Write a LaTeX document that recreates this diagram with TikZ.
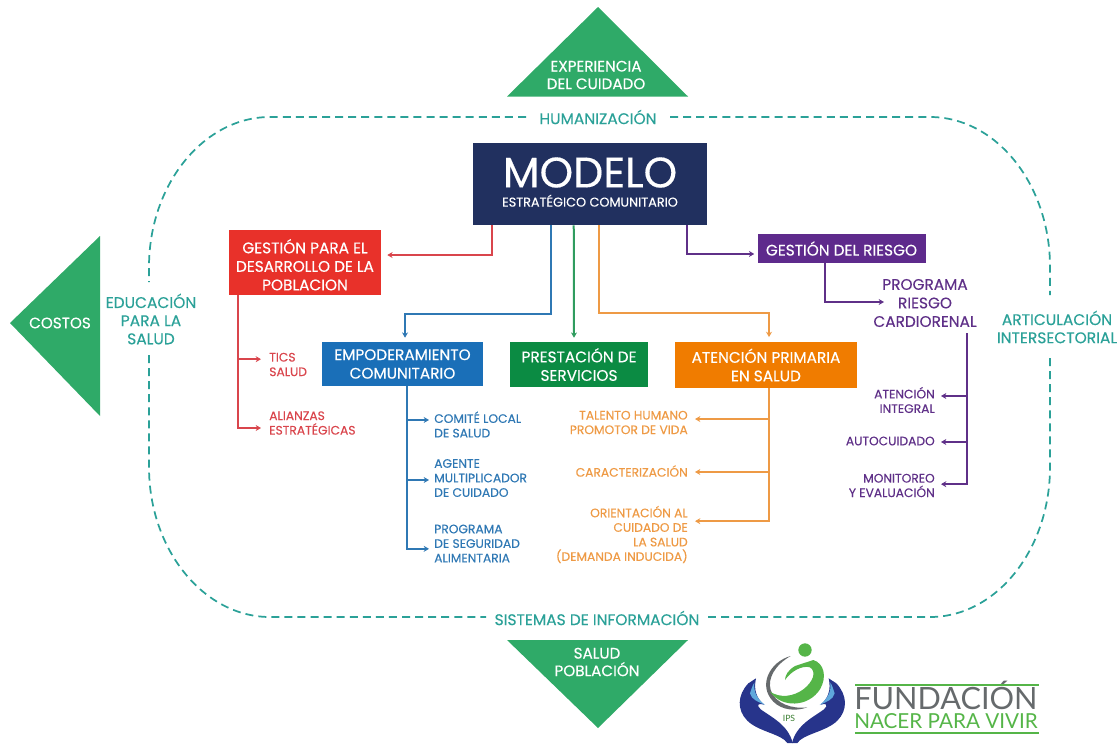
\documentclass[tikz,border=0pt]{standalone}
\usepackage{fontspec}
\setmainfont{Poppins}[FakeBold=0.35]
\newfontfamily\logofont{Lato}
\usetikzlibrary{arrows.meta}
\definecolor{navybox}{HTML}{21305F}
\definecolor{redbox}{HTML}{E8312A}
\definecolor{bluebox}{HTML}{1A6FB8}
\definecolor{greenbox}{HTML}{0B8B43}
\definecolor{orangebox}{HTML}{F07C00}
\definecolor{purplebox}{HTML}{5E2A8C}
\definecolor{redtext}{HTML}{D9454C}
\definecolor{bluetext}{HTML}{2F78B4}
\definecolor{orangetext}{HTML}{EE9A45}
\definecolor{purpletext}{HTML}{5F3088}
\definecolor{tealtext}{HTML}{2BA198}
\definecolor{tribox}{HTML}{2FAA68}
\definecolor{logogreen}{HTML}{55B548}
\definecolor{logogrey}{HTML}{666A6C}
\definecolor{handblue}{HTML}{27348B}
\definecolor{handsky}{HTML}{5FA8DC}
\tikzset{
boxnode/.style={inner sep=0pt,text=white,align=center,font=\fontsize{11.5}{13.9}\selectfont},
leafnode/.style={inner sep=0pt,font=\fontsize{9.2}{10.9}\selectfont},
framelabel/.style={inner sep=0pt,align=center,text=tealtext,font=\fontsize{11.6}{13.6}\selectfont},
trilabel/.style={inner sep=0pt,align=center,text=white,font=\fontsize{11.4}{13.2}\selectfont},
linkline/.style={line width=1.5pt,-{Stealth[length=4pt,width=4.5pt]}},
frameline/.style={line width=1.3pt,color=tealtext,dash pattern=on 6pt off 3.8pt}
}
\begin{document}
\begin{tikzpicture}[x=0.75pt,y=-0.75pt]
\useasboundingbox (0,0) rectangle (1120,743);
\fill[tribox] (598,7) -- (688,96.5) -- (507,96.5) -- cycle;
\fill[tribox] (10,323) -- (100,236) -- (100,416) -- cycle;
\fill[tribox] (507,640) -- (688,640) -- (598,728) -- cycle;
\node[trilabel] (experiencia) at (596,75) {EXPERIENCIA\\DEL CUIDADO};
\node[trilabel] (costos) at (60,323) {COSTOS};
\node[trilabel] (poblacion) at (597,662) {SALUD\\POBLACIÓN};
\node[framelabel] (humanizacion) at (598,117) {HUMANIZACIÓN};
\node[framelabel] (educacion) at (151,319) {EDUCACIÓN\\PARA LA\\SALUD};
\node[framelabel] (articulacion) at (1057,327) {ARTICULACIÓN\\INTERSECTORIAL};
\node[framelabel] (sistemas) at (597,618) {SISTEMAS DE INFORMACIÓN};
\coordinate (topleft) at (526,117);
\coordinate (topright) at (670,117);
\coordinate (leftup) at (149,282);
\coordinate (leftdown) at (149,355);
\coordinate (rightup) at (1050,295);
\coordinate (rightdown) at (1050,358);
\coordinate (bottomleft) at (486,617);
\coordinate (bottomright) at (708,617);
\draw[frameline] (topleft) -- (270,117) .. controls (204,117) and (149,184) .. (149,267) -- (leftup);
\draw[frameline] (topright) -- (930,117) .. controls (996,117) and (1050,184) .. (1050,267) -- (rightup);
\draw[frameline] (leftdown) -- (149,467) .. controls (149,550) and (204,617) .. (270,617) -- (bottomleft);
\draw[frameline] (rightdown) -- (1050,467) .. controls (1050,550) and (996,617) .. (930,617) -- (bottomright);
\node[boxnode,fill=navybox,minimum width=175.5pt,minimum height=61.5pt] (modelo) at (590,184) {{\fontsize{32}{30}\selectfont MODELO}\\[0.5pt]{\fontsize{9.6}{10}\selectfont ESTRATÉGICO COMUNITARIO}\par\vspace*{3pt}};
\node[boxnode,fill=redbox,minimum width=114pt,minimum height=48.75pt] (desarrollo) at (305,262.5) {\rule{0pt}{14pt}GESTIÓN PARA EL\\DESARROLLO DE LA\\POBLACION};
\node[boxnode,fill=bluebox,minimum width=120.75pt,minimum height=33pt] (empoderamiento) at (402.5,364) {EMPODERAMIENTO\\COMUNITARIO};
\node[boxnode,fill=greenbox,minimum width=103.5pt,minimum height=33.75pt] (prestacion) at (579,364.5) {PRESTACIÓN DE\\SERVICIOS};
\node[boxnode,fill=orangebox,minimum width=136.5pt,minimum height=34.5pt] (atencion) at (766,365) {ATENCIÓN PRIMARIA\\EN SALUD};
\node[boxnode,fill=purplebox,minimum width=126pt,minimum height=21.75pt] (riesgo) at (841.5,248.5) {GESTIÓN DEL RIESGO};
\node[inner sep=0pt,align=center,text=purpletext,font=\fontsize{11.5}{13.9}\selectfont] (cardiorenal) at (925,303) {PROGRAMA\\RIESGO\\CARDIORENAL};
\coordinate (cardioin) at (884,302);
\node[leafnode,text=redtext,anchor=west,align=left] (tics) at (269,364.5) {TICS\\SALUD};
\node[leafnode,text=redtext,anchor=west,align=left] (alianzas) at (269,423) {ALIANZAS\\ESTRATÉGICAS};
\node[leafnode,text=bluetext,anchor=west,align=left] (comite) at (434,424.5) {COMITÉ LOCAL\\DE SALUD};
\node[leafnode,text=bluetext,anchor=west,align=left] (agente) at (434,478) {AGENTE\\MULTIPLICADOR\\DE CUIDADO};
\node[leafnode,text=bluetext,anchor=west,align=left] (seguridad) at (434,543.5) {PROGRAMA\\DE SEGURIDAD\\ALIMENTARIA};
\node[leafnode,text=orangetext,anchor=east,align=right] (talento) at (688,422.5) {TALENTO HUMANO\\PROMOTOR DE VIDA};
\node[leafnode,text=orangetext,anchor=east,align=right] (caracterizacion) at (688,471) {CARACTERIZACIÓN};
\node[leafnode,text=orangetext,anchor=east,align=right] (orientacion) at (688,534.5) {ORIENTACIÓN AL\\CUIDADO DE\\LA SALUD\\(DEMANDA INDUCIDA)};
\node[leafnode,text=purpletext,anchor=east,align=right] (integral) at (935,400) {ATENCIÓN\\INTEGRAL};
\node[leafnode,text=purpletext,anchor=east,align=right] (autocuidado) at (935,441) {AUTOCUIDADO};
\node[leafnode,text=purpletext,anchor=east,align=right] (monitoreo) at (935,485.5) {MONITOREO\\Y EVALUACIÓN};
\draw[linkline,color=redtext,shorten >=4.5pt] ([xshift=14.25pt]modelo.south west) |- ([yshift=5.6pt]desarrollo.east);
\draw[linkline,color=bluetext,shorten >=3pt] ([xshift=58.5pt]modelo.south west) -- ++(0,89) -| ([xshift=1.9pt]empoderamiento.north);
\draw[linkline,color=greenbox!85!white,shorten >=3pt] ([xshift=75.75pt]modelo.south west) -- ([xshift=-3.75pt]prestacion.north);
\draw[linkline,color=orangetext,shorten >=3.5pt] ([xshift=94.5pt]modelo.south west) -- ++(0,88) -| ([xshift=2.25pt]atencion.north);
\draw[linkline,color=purpletext,shorten >=2.25pt] ([xshift=160.5pt]modelo.south west) |- ([yshift=-4.1pt]riesgo.west);
\draw[linkline,color=purpletext] ([xshift=51pt]riesgo.south west) |- (cardioin);
\coordinate (redtrunk) at ([xshift=6.75pt]desarrollo.south west);
\coordinate (bluetrunk) at ([xshift=3.4pt]empoderamiento.south);
\coordinate (orangetrunk) at ([xshift=2.25pt]atencion.south);
\coordinate (purpletrunk) at (967,333);
\draw[linkline,color=redtext,shorten >=6pt] (redtrunk) |- ([yshift=-3.75pt]alianzas.west);
\draw[linkline,color=redtext,shorten >=6pt] ([yshift=4pt]redtrunk |- tics.west) -- ([yshift=4pt]tics.west);
\draw[linkline,color=bluetext,shorten >=3.75pt] (bluetrunk) |- ([yshift=-4pt]seguridad.west);
\draw[linkline,color=bluetext,shorten >=3.75pt] ([yshift=3.4pt]bluetrunk |- comite.west) -- ([yshift=3.4pt]comite.west);
\draw[linkline,color=bluetext,shorten >=3.75pt] ([yshift=-1.5pt]bluetrunk |- agente.west) -- ([yshift=-1.5pt]agente.west);
\draw[linkline,color=orangetext,shorten >=5.25pt] (orangetrunk) |- ([yshift=10pt]orientacion.east);
\draw[linkline,color=orangetext,shorten >=5.25pt] ([yshift=2.6pt]orangetrunk |- talento.east) -- ([yshift=2.6pt]talento.east);
\draw[linkline,color=orangetext,shorten >=5.25pt] ([yshift=-0.75pt]orangetrunk |- caracterizacion.east) -- ([yshift=-0.75pt]caracterizacion.east);
\draw[linkline,color=purpletext,shorten >=4.5pt] (purpletrunk) |- ([yshift=1pt]monitoreo.east);
\draw[linkline,color=purpletext,shorten >=4.5pt] ([yshift=3pt]purpletrunk |- integral.east) -- ([yshift=3pt]integral.east);
\draw[linkline,color=purpletext,shorten >=4.5pt] ([yshift=-0.75pt]purpletrunk |- autocuidado.east) -- ([yshift=-0.75pt]autocuidado.east);
\begin{scope}[shift={(720,630)},x=0.25pt,y=-0.25pt]
\fill[handblue] (202,339) .. controls (185,312) and (115,305) .. (82,272) .. controls (50,240) and (52,195) .. (85,160) -- (108,145) .. controls (100,180) and (110,205) .. (132,224) .. controls (115,218) and (108,225) .. (122,238) .. controls (155,262) and (205,285) .. (218,339) -- cycle;
\fill[handblue] (232,339) .. controls (249,312) and (319,305) .. (352,272) .. controls (384,240) and (382,195) .. (349,160) -- (326,145) .. controls (334,180) and (324,205) .. (302,224) .. controls (319,218) and (326,225) .. (312,238) .. controls (279,262) and (229,285) .. (216,339) -- cycle;
\fill[handsky] (90,190) .. controls (95,175) and (98,165) .. (103,158) .. controls (100,185) and (110,205) .. (135,225) .. controls (115,215) and (95,210) .. (90,190) -- cycle;
\fill[handsky] (344,190) .. controls (339,175) and (336,165) .. (331,158) .. controls (334,185) and (324,205) .. (299,225) .. controls (319,215) and (339,210) .. (344,190) -- cycle;
\fill[logogrey] (212,78) .. controls (150,95) and (112,165) .. (160,215) .. controls (185,240) and (225,245) .. (262,232) .. controls (215,238) and (165,220) .. (152,180) .. controls (142,145) and (165,105) .. (212,78) -- cycle;
\fill[logogreen] (150,185) .. controls (185,235) and (265,232) .. (300,178) .. controls (322,140) and (312,100) .. (280,90) -- (225,108) .. controls (205,120) and (195,135) .. (195,150) .. controls (212,125) and (245,105) .. (270,112) .. controls (290,125) and (280,155) .. (250,178) .. controls (220,200) and (180,205) .. (150,185) -- cycle;
\fill[logogreen] (255,60) circle[radius=20];
\node[inner sep=0pt,text=logogreen!70!black,font=\logofont\fontsize{6.5}{7}\selectfont] (ips) at (207,266) {IPS};
\end{scope}
\node[inner sep=0pt,text=logogrey,anchor=base west,text depth=0pt,font=\logofont\fontsize{23}{24}\selectfont] (fundacion) at (854,709) {FUNDACIÓN};
\node[inner sep=0pt,text=logogreen,anchor=base west,text height=9pt,font=\logofont\fontsize{15.5}{16}\selectfont] (nacer) at (854,728.5) {NACER PARA VIVIR};
\coordinate (ruleleft) at (855,685);
\coordinate (ruleright) at (1039,685);
\coordinate (floorleft) at (855,733);
\coordinate (floorright) at (1039,733);
\draw[logogreen,line width=1pt] (ruleleft) -- (ruleright);
\draw[logogreen,line width=1pt] (floorleft) -- (floorright);
\end{tikzpicture}
\end{document}
